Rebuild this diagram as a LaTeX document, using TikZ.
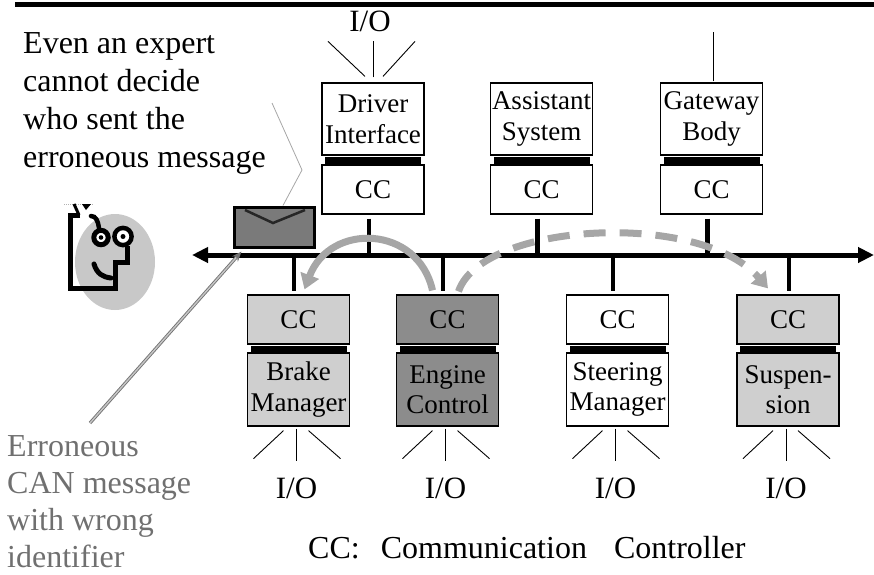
\documentclass[tikz,border=0pt]{standalone}
\usepackage{fontspec}
\setmainfont{Liberation Serif}
\usetikzlibrary{arrows.meta,calc}

\definecolor{lightfill}{HTML}{CFCFCF}
\definecolor{darkfill}{HTML}{8C8C8C}
\definecolor{flowgray}{HTML}{A6A6A6}
\definecolor{envfill}{HTML}{7A7A7A}
\definecolor{facegray}{HTML}{C8C8C8}
\definecolor{notegray}{HTML}{707070}

\begin{document}
\begin{tikzpicture}[x=1pt,y=-1pt,
  ecu/.style={draw,line width=1.2pt,minimum width=102pt,inner sep=0pt,align=center,
    font=\fontsize{27}{30.5}\selectfont},
  upperbox/.style={ecu,minimum height=72pt},
  ccbox/.style={ecu,minimum height=49pt},
  lowerbox/.style={ecu,minimum height=73pt},
  bar/.style={fill=black,minimum width=96pt,minimum height=7pt,inner sep=0pt},
  stub/.style={line width=4.5pt},
  bus/.style={line width=5pt,{Triangle[length=16pt,width=15pt]}-{Triangle[length=16pt,width=15pt]}},
  ioline/.style={line width=0.9pt},
  iotext/.style={inner sep=0pt,anchor=base,font=\fontsize{31}{36}\selectfont},
  bigtext/.style={inner sep=0pt,anchor=base west,align=left,font=\fontsize{32}{38}\selectfont},
  flow/.style={line width=7pt,flowgray,-{Triangle[length=15pt,width=19pt]}},
  faceline/.style={line width=5pt}
]
\useasboundingbox (0,0) rectangle (874,574);

% header rule
\draw[line width=5pt] (15,4.5) -- (874,4.5);

% CAN bus
\coordinate (busL) at (192,255);
\coordinate (busR) at (874,255);
\draw[bus] (busL) -- (busR);

% upper row of control units
\node[upperbox] (di) at (373,119) {Driver\\Interface};
\node[bar] (dibar) at (373,160.5) {};
\node[ccbox] (dicc) at (373,189.5) {CC};
\node[upperbox] (as) at (541.5,119) {Assistant\\System};
\node[bar] (asbar) at (541.5,160.5) {};
\node[ccbox] (ascc) at (541.5,189.5) {CC};
\node[upperbox] (gw) at (711.5,119) {Gateway\\Body};
\node[bar] (gwbar) at (711.5,160.5) {};
\node[ccbox] (gwcc) at (711.5,189.5) {CC};

% lower row of control units
\node[ccbox,fill=lightfill] (brcc) at (298.5,319.5) {CC};
\node[bar] (brbar) at (298.5,349) {};
\node[lowerbox,fill=lightfill] (br) at (298.5,389.5) {Brake\\Manager};
\node[ccbox,fill=darkfill] (encc) at (447.5,319.5) {CC};
\node[bar] (enbar) at (447.5,349) {};
\node[lowerbox,fill=darkfill] (en) at (447.5,389.5) {Engine\\Control};
\node[ccbox] (stcc) at (617.5,319.5) {CC};
\node[bar] (stbar) at (617.5,349) {};
\node[lowerbox] (st) at (617.5,389.5) {Steering\\Manager};
\node[ccbox,fill=lightfill] (succ) at (788,319.5) {CC};
\node[bar] (subar) at (788,349) {};
\node[lowerbox,fill=lightfill] (su) at (788,389.5) {Suspen-\\sion};

% bus taps
\foreach \u in {dicc,ascc,gwcc}
  \draw[stub] ($(\u.south)+(-4,4)$) -- ($(\u.south |- busL)+(-4,0)$);
\foreach \u in {brcc,encc,stcc}
  \draw[stub] ($(\u.north |- busL)+(-4.5,0)$) -- ($(\u.north)+(-4.5,-3)$);
\draw[stub] ($(succ.north |- busL)+(1,0)$) -- ($(succ.north)+(1,-3)$);

% I/O of the driver interface
\draw[ioline] ($(di.north)+(-8,-6)$) -- ++(-37,-35);
\draw[ioline] ($(di.north)+(0,-5)$) -- ++(0,-36);
\draw[ioline] ($(di.north)+(10,-6)$) -- ++(32,-35);
\node[iotext] (dio) at ($(di.north)+(-3,-51)$) {I/O};

% gateway uplink
\draw[ioline] ($(gw.north)+(2,-1)$) -- ($(gw.north)+(2,-50)$);

% I/O of the lower units
\foreach \u/\n in {br/brio,en/enio,st/stio,su/suio}{
  \draw[ioline] ($(\u.south)+(-15,4)$) -- ++(-30,28);
  \draw[ioline] ($(\u.south)+(-2,2)$) -- ++(0,32);
  \draw[ioline] ($(\u.south)+(10,4)$) -- ++(32,28);
  \node[iotext] (\n) at ($(\u.south)+(-2,72)$) {I/O};
}

% message flows on the bus
\draw[flow] ($(encc.north)+(-15,-4)$) .. controls (418,225) and (330,222) .. ($(brcc.north)+(6,-5)$);
\draw[flow,dash pattern=on 22pt off 14pt] ($(encc.north)+(11,-3)$) .. controls (482,222) and (700,210) .. ($(succ.north)+(-20,-6)$);

% envelope: the erroneous message
\node[draw,line width=3pt,fill=envfill,minimum width=80pt,minimum height=40pt,inner sep=0pt] (env) at (274,227) {};
\draw[line width=2.5pt,black!85,line join=miter] ($(env.center)+(-29,-17)$) -- ($(env.center)+(-1,-4)$) -- ($(env.center)+(31,-17)$);

% speech tail from the note to the envelope
\coordinate (tailA) at (272,103);
\coordinate (tailB) at (302,170);
\draw[line width=0.8pt,gray!70] (tailA) -- (tailB) -- ($(env.north)+(9,0)$);

% pointer from the CAN message note
\coordinate (errTail) at (90,423);
\draw[line width=3.2pt,black!55,-{Stealth[length=10pt,width=8pt]}] (errTail) -- ($(env.south west)+(9,3)$);
\draw[line width=1.4pt,gray!45,shorten >=8pt] (errTail) -- ($(env.south west)+(9,3)$);

% puzzled face
\fill[facegray] (115,262) ellipse [x radius=40, y radius=48];
\draw[gray!60,line width=1pt,densely dotted] (64,204) -- (94,204);
\draw[line width=3pt] (74,204) -- (79,215);
\fill (82,204) -- (91,204) -- (86,210) -- cycle;
\draw[faceline,line join=miter] (80,215) -- (70,215) -- (70,288) -- (115,288) -- (115,262) -- (127,262) -- (127,246);
\draw[line width=4.5pt,line cap=round] (91,216) .. controls (96,216) and (98,221) .. (99,228);
\draw[line width=5pt,fill=white] (101,237.5) circle (7.2);
\draw[line width=4.5pt,fill=white] (123,236.5) circle (8.6);
\fill (101,237.5) circle (2.3);
\fill (123,236.5) circle (2.5);
\draw[faceline,line cap=round] (94,264) .. controls (97,274) and (103,277) .. (111,278);

% notes
\node[bigtext] (expert) at (23,167) {Even an expert\\cannot decide\\who sent the\\erroneous message};
\node[bigtext,text=notegray,font=\fontsize{32}{36.7}\selectfont] (errnote) at (7,567) {Erroneous\\CAN message\\with wrong\\identifier};
\node[bigtext] (legend) at (308,558) {CC:\hspace{21pt}Communication\hspace{27pt}Controller};
\end{tikzpicture}
\end{document}
